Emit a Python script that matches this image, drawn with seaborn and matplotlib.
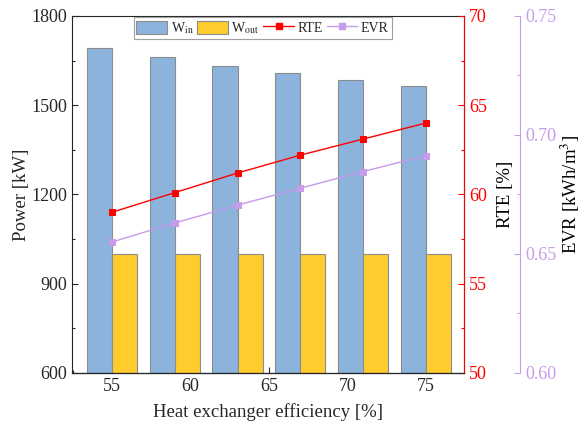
import matplotlib
matplotlib.use("Agg")
import matplotlib.pyplot as plt
import seaborn as sns
import pandas as pd
from matplotlib.patches import Patch
from matplotlib.lines import Line2D
from matplotlib.ticker import MultipleLocator

# data
efficiency = [55, 59, 63, 67, 71, 75]
w_in = [1693, 1661, 1633, 1608, 1584, 1565]
w_out = [1000, 1000, 1000, 1000, 1000, 1000]
rte = [59.0, 60.1, 61.2, 62.2, 63.1, 64.0]
evr = [0.655, 0.663, 0.6705, 0.6776, 0.6846, 0.6913]

blue = "#8BB3DC"
yellow = "#FFCC2E"
red = "#FF0000"
purple = "#C69BEA"

sns.set_style("ticks")
plt.rcParams["font.family"] = ["Liberation Serif", "DejaVu Serif"]
plt.rcParams["mathtext.fontset"] = "stix"
plt.rcParams["xtick.direction"] = "in"
plt.rcParams["ytick.direction"] = "in"

df = pd.DataFrame({
    "eff": efficiency * 2,
    "power": w_in + w_out,
    "kind": ["W_in"] * 6 + ["W_out"] * 6,
})

fig = plt.figure(figsize=(5.81, 4.32), dpi=100)
ax = fig.add_axes([0.124, 0.137, 0.675, 0.826])

sns.barplot(data=df, x="eff", y="power", hue="kind", native_scale=True,
            palette=[blue, yellow], saturation=1, edgecolor="#8C8C8C",
            linewidth=0.8, legend=False, ax=ax)
ax.set_xlim(52.45, 77.45)
ax.set_ylim(600, 1800)
ax.set_xticks([55, 60, 65, 70, 75])
ax.xaxis.set_minor_locator(MultipleLocator(2.5))
ax.set_yticks([600, 900, 1200, 1500, 1800])
ax.yaxis.set_minor_locator(MultipleLocator(150))
ax.tick_params(labelsize=13, length=4, width=0.8, top=False)
ax.tick_params(which="minor", length=2.5, width=0.8, top=False)
ax.set_xlabel("Heat exchanger efficiency [%]", fontsize=13.5, labelpad=6)
ax.set_ylabel("Power [kW]", fontsize=13.5, labelpad=1)

# RTE axis
ax2 = ax.twinx()
sns.lineplot(x=efficiency, y=rte, color=red, marker="s", markersize=5,
             markeredgecolor=red, linewidth=1.0, ax=ax2)
ax2.set_ylim(50, 70)
ax2.set_yticks([50, 55, 60, 65, 70])
ax2.yaxis.set_minor_locator(MultipleLocator(2.5))
ax2.spines["right"].set_color(red)
ax2.tick_params(axis="y", colors=red, labelsize=13, length=4, width=0.8)
ax2.tick_params(axis="y", which="minor", colors=red, length=2.5, width=0.8)
ax2.set_ylabel("RTE [%]", fontsize=13.5, color="black", labelpad=7)

# EVR axis
ax3 = ax.twinx()
ax3.spines["right"].set_position(("axes", 1.143))
sns.lineplot(x=efficiency, y=evr, color=purple, marker="s", markersize=5,
             markeredgecolor=purple, linewidth=1.0, ax=ax3)
ax3.set_ylim(0.60, 0.75)
ax3.set_yticks([0.60, 0.65, 0.70, 0.75])
ax3.yaxis.set_minor_locator(MultipleLocator(0.025))
ax3.spines["right"].set_color(purple)
ax3.tick_params(axis="y", colors=purple, labelsize=13, length=4, width=0.8)
ax3.tick_params(axis="y", which="minor", colors=purple, length=2.5, width=0.8)
ax3.set_ylabel("EVR [kWh/m$^3$]", fontsize=13.5, color="black", labelpad=2)

for a in (ax2, ax3):
    a.spines["top"].set_visible(False)
    a.spines["left"].set_visible(False)

handles = [
    Patch(facecolor=blue, edgecolor="#8C8C8C", linewidth=0.8),
    Patch(facecolor=yellow, edgecolor="#8C8C8C", linewidth=0.8),
    Line2D([], [], color=red, marker="s", markersize=5, linewidth=1.0),
    Line2D([], [], color=purple, marker="s", markersize=5, linewidth=1.0),
]
labels = ["W$_{\\mathrm{in}}$", "W$_{\\mathrm{out}}$", "RTE", "EVR"]
leg = ax3.legend(handles, labels, ncol=4, loc="upper center",
                 bbox_to_anchor=(0.486, 1.0), fontsize=10, frameon=True,
                 fancybox=False, edgecolor="#A0A0A0", framealpha=1,
                 handlelength=2.2, handleheight=1.15, handletextpad=0.25,
                 columnspacing=0.3, borderaxespad=0.1, borderpad=0.2)
leg.get_frame().set_linewidth(0.8)

fig.savefig("out.png", dpi=100)
